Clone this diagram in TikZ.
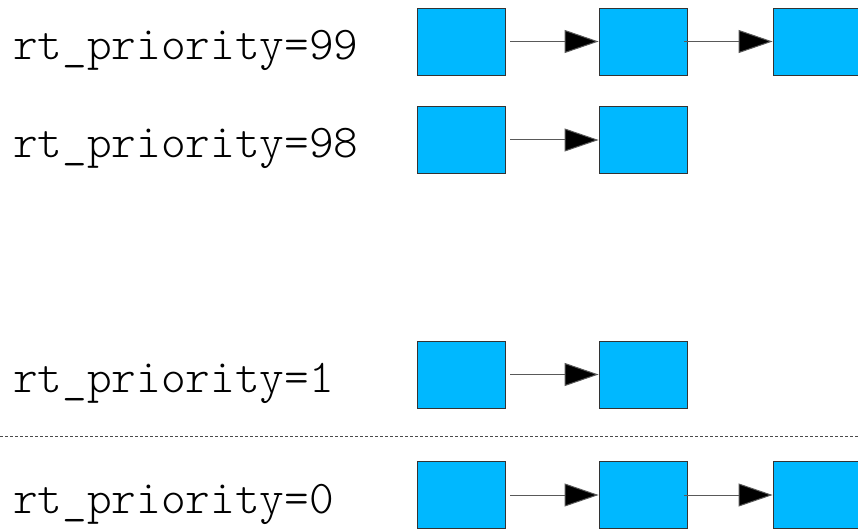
\documentclass[tikz,border=0pt]{standalone}
\usepackage{fontspec}
\setmonofont{Latin Modern Mono Light}
\usetikzlibrary{arrows.meta}
\definecolor{qblue}{HTML}{00B8FF}
\tikzset{
  task/.style = {fill = qblue, draw = black!80, line width = 0.9pt, shape = rectangle, minimum width = 88pt, minimum height = 67pt, inner sep = 0pt},
  prio/.style = {anchor = base west, inner sep = 0pt, font = \ttfamily\fontsize{47}{47}\selectfont},
  link/.style = {draw = black!65, line width = 1pt, -{Triangle[length=34pt, width=23pt, fill=black]}, shorten <= 5pt},
  sep/.style  = {draw = black!70, line width = 0.8pt, dash pattern = on 3pt off 2pt}
}
\begin{document}
\begin{tikzpicture}[x = 1pt, y = 1pt]
\useasboundingbox (0,0) rectangle (858,528);
\begin{scope}
\clip (0,0) rectangle (858,528);
% labels
\node[prio] (L99) at (13,468) {rt\_priority=99};
\node[prio] (L98) at (13,370) {rt\_priority=98};
\node[prio] (L1)  at (13,136) {rt\_priority=1};
\node[prio] (L0)  at (13,15)  {rt\_priority=0};

% queues
\node[task] (p99a) at (461,486.5) {};
\node[task] (p99b) at (643,486.5) {};
\node[task] (p99c) at (817,486.5) {};
\node[task] (p98a) at (461,388) {};
\node[task] (p98b) at (643,388) {};
\node[task] (p1a)  at (461,153.5) {};
\node[task] (p1b)  at (643,153.5) {};
\node[task] (p0a)  at (461,33) {};
\node[task] (p0b)  at (643,33) {};
\node[task] (p0c)  at (817,33) {};

\draw[link] (p99a) -- (p99b);
\draw[link, shorten <= -3pt] (p99b) -- (p99c);
\draw[link] (p98a) -- (p98b);
\draw[link] (p1a) -- (p1b);
\draw[link] (p0a) -- (p0b);
\draw[link, shorten <= -3pt] (p0b) -- (p0c);

% realtime / normal boundary
\coordinate (sepL) at (0,92);
\coordinate (sepR) at (858,92);
\draw[sep] (sepL) -- (sepR);
\end{scope}
\end{tikzpicture}
\end{document}
